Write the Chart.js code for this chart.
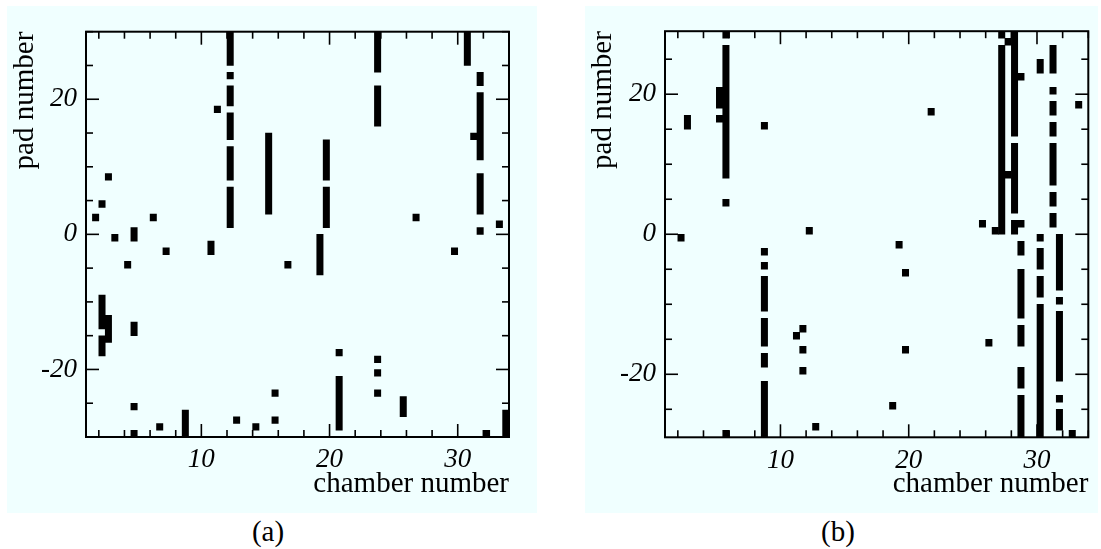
<!DOCTYPE html>
<html><head><meta charset="utf-8">
<script src="https://cdn.jsdelivr.net/npm/chart.js@4"></script>
<style>
html,body{margin:0;padding:0;background:#fff;}
body{width:1101px;height:549px;position:relative;overflow:hidden;font-family:"Liberation Serif","Times New Roman",serif;}
canvas{position:absolute;background:#f0ffff;}
#ca{left:7px;top:6px;}
#cb{left:585px;top:6px;}
.cap{position:absolute;font-size:29px;line-height:34px;top:514px;transform:translateX(-50%);color:#000;white-space:nowrap;}
</style></head>
<body>
<canvas id="ca" width="530" height="507"></canvas>
<canvas id="cb" width="513" height="507"></canvas>
<div class="cap" style="left:268px">(a)</div>
<div class="cap" style="left:838px">(b)</div>
<script>
// ---- axis setup ----
const chamberRange = [1, 34];
const padRangeA = [-30, 30];
const padRangeB = [-29, 29];
const chamberTickStep = 2;     // minor tick spacing
const chamberLabelStep = 10;   // labelled ticks
const padTickStep = 5;
const padLabelStep = 20;
const binWidth = 0.5;          // chamber bin width
const xTitle = 'chamber number';
const yTitle = 'pad number';

// ---- hits: [chamber bin start, pad low, pad high] ----
const hitsA = [
  [12,25,30],[12,23,24],[12,19,22],[12,14,18],[12,8,13],[12,1,7],
  [11,18,19],[15,3,15],[2.5,8,9],[2,4,5],[1.5,2,3],[6,2,3],
  [3,-1,0],[4.5,-1,1],[7,-3,-2],[10.5,-3,-1],[4,-5,-4],
  [23.5,24,30],[23.5,16,22],[30.5,25,30],[31.5,22,24],[31.5,11,21],
  [31,14,15],[31.5,3,9],[31.5,0,1],[33,1,2],[26.5,2,3],[29.5,-3,-2],
  [19.5,8,14],[19.5,1,7],[19,-6,0],[16.5,-5,-4],
  [2,-14,-9],[2,-18,-15],[2.5,-16,-12],[4.5,-15,-13],
  [4.5,-26,-25],[4.5,-30,-29],[6.5,-29,-28],[8.5,-30,-26],
  [12.5,-28,-27],[14,-29,-28],[15.5,-24,-23],[15.5,-28,-27],
  [20.5,-18,-17],[20.5,-29,-21],[23.5,-19,-18],[23.5,-21,-20],
  [23.5,-24,-23],[25.5,-27,-24],[32,-30,-29],[33.5,-30,-26]
];
const hitsB = [
  [5.5,28,29],[5.5,8,27],[5,18,21],[5,16,17],[2.5,15,17],[5.5,4,5],
  [8.5,15,16],[2,-1,0],[12,0,1],
  [8.5,-3,-2],[8.5,-5,-4],[8.5,-11,-6],[8.5,-16,-12],[8.5,-19,-17],[8.5,-29,-21],
  [5.5,-29,-28],[12.5,-28,-27],[11,-15,-14],[11.5,-14,-13],[11.5,-17,-16],[11.5,-20,-19],
  [19,-2,-1],[19.5,-6,-5],[19.5,-17,-16],[18.5,-25,-24],[21.5,17,18],
  [25.5,1,2],[26,-16,-15],[26.5,0,1],
  [27,28,29],[27.5,27,28],[28,14,29],[27,0,27],[27.5,8,9],[28,3,13],
  [28.5,22,23],[28,0,2],[28.5,1,2],
  [28.5,-3,-1],[28.5,-12,-5],[28.5,-16,-13],[28.5,-22,-19],[28.5,-29,-23],
  [30,23,25],[30,-1,0],[30,-5,-2],[30,-9,-6],[30,-29,-10],
  [31,23,27],[31,20,21],[31,17,19],[31,14,16],[31,7,13],[31,4,6],[31,1,3],
  [31.5,-8,0],[31.5,-10,-9],[31.5,-21,-11],[31.5,-24,-23],[31.5,-28,-25],
  [32.5,-29,-28],[33,18,19]
];

const inwardTicks = {
  id: 'inwardTicks',
  afterDatasetsDraw(chart) {
    const {ctx, chartArea: a, scales: {x, y}} = chart;
    ctx.save();
    ctx.strokeStyle = '#000';
    ctx.lineWidth = 1.6;
    const seg = (x1, y1, x2, y2) => { ctx.beginPath(); ctx.moveTo(x1, y1); ctx.lineTo(x2, y2); ctx.stroke(); };
    x.ticks.forEach(t => {
      const p = x.getPixelForValue(t.value);
      const len = t.value % chamberLabelStep === 0 ? 13 : 7;
      seg(p, a.bottom, p, a.bottom - len);
      seg(p, a.top, p, a.top + len);
    });
    y.ticks.forEach(t => {
      const p = y.getPixelForValue(t.value);
      const len = t.value % padLabelStep === 0 ? 13 : 7;
      seg(a.left, p, a.left + len, p);
      seg(a.right, p, a.right - len, p);
    });
    ctx.lineWidth = 2;
    ctx.strokeRect(a.left, a.top, a.right - a.left, a.bottom - a.top);
    ctx.restore();
  }
};

function makeChart(id, hits, padRange, geom) {
  const data = hits.map(([c, lo, hi]) => ({x: c + binWidth / 2, y: [lo, hi]}));
  return new Chart(document.getElementById(id), {
    type: 'bar',
    data: { datasets: [{ data, backgroundColor: '#000', borderWidth: 0,
      barPercentage: 1, categoryPercentage: 1, inflateAmount: 0.3 }] },
    plugins: [inwardTicks],
    options: {
      responsive: false, animation: false, devicePixelRatio: 1,
      layout: { padding: { top: geom.top, right: geom.right, left: 0, bottom: 0 } },
      plugins: { legend: { display: false }, tooltip: { enabled: false } },
      scales: {
        x: {
          type: 'linear', min: chamberRange[0], max: chamberRange[1], offset: false,
          grid: { display: false, drawTicks: false }, border: { display: false },
          afterFit: s => { s.height = geom.xh; },
          ticks: { stepSize: chamberTickStep, includeBounds: false, autoSkip: false, maxRotation: 0,
            padding: 7, color: '#000',
            font: { family: 'Liberation Serif', size: 27, style: 'italic' },
            callback: v => (v % chamberLabelStep === 0 ? String(v) : '') },
          title: { display: true, text: xTitle, align: 'end', color: '#000',
            font: { family: 'Liberation Serif', size: 29 }, padding: { top: 0, bottom: 11.5 } }
        },
        y: {
          type: 'linear', min: padRange[0], max: padRange[1],
          grid: { display: false, drawTicks: false }, border: { display: false },
          afterFit: s => { s.width = geom.yw; },
          ticks: { stepSize: padTickStep, includeBounds: false, autoSkip: false,
            padding: 9, color: '#000',
            font: { family: 'Liberation Serif', size: 27, style: 'italic' },
            callback: v => (v % padLabelStep === 0 ? String(v) : '') },
          title: { display: true, text: yTitle, align: 'end', color: '#000',
            font: { family: 'Liberation Serif', size: 29 }, padding: { top: 0.6, bottom: 0 } }
        }
      }
    }
  });
}

makeChart('ca', hitsA, padRangeA, { top: 25.7, right: 28, xh: 76, yw: 79 });
makeChart('cb', hitsB, padRangeB, { top: 25, right: 9.7, xh: 75.7, yw: 80 });
</script>
</body></html>
